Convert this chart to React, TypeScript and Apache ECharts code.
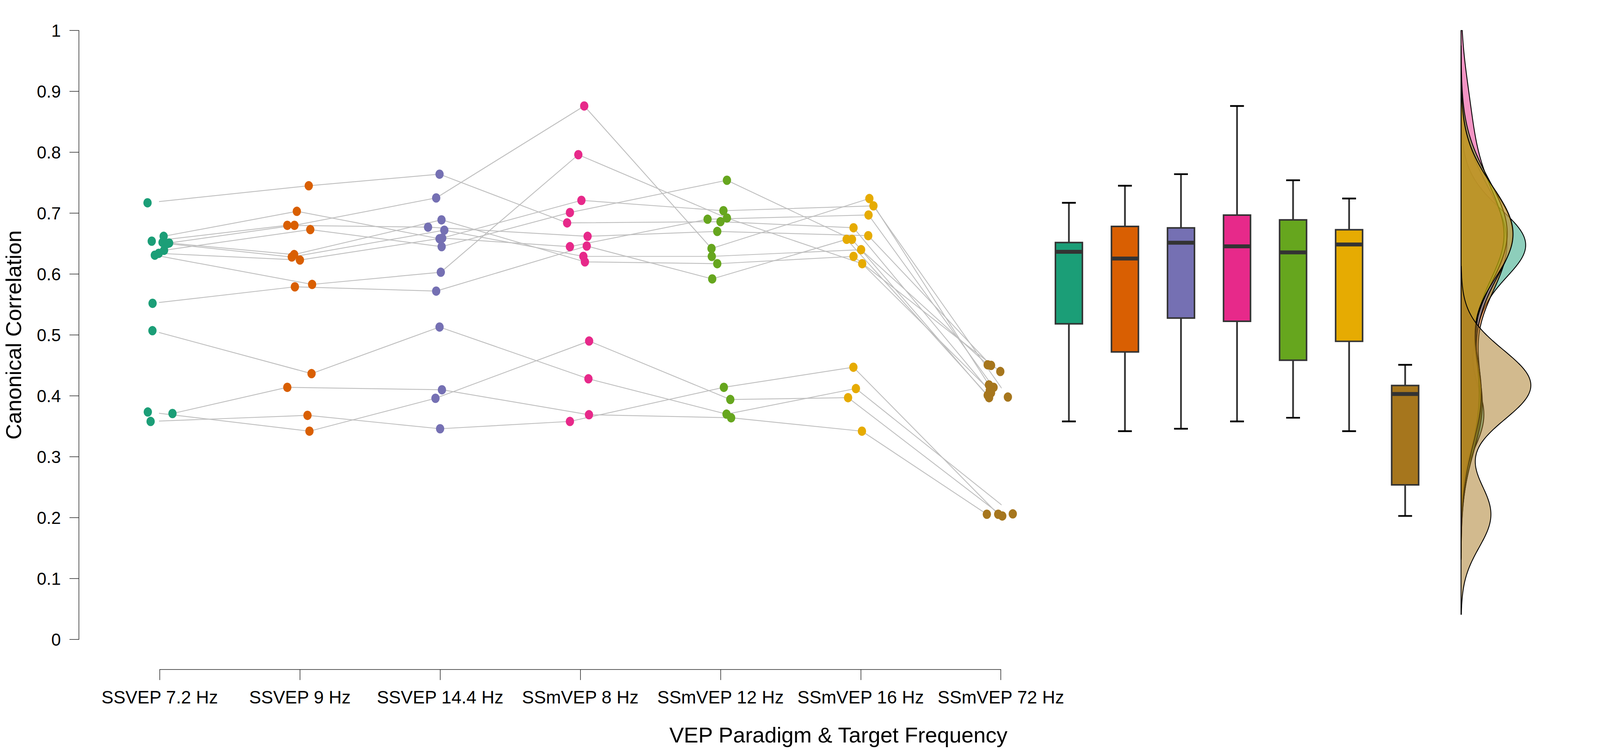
import React, { useEffect, useRef } from "react";
import * as echarts from "echarts";

// ---------------- data ----------------
const categories = [
  "SSVEP 7.2 Hz",
  "SSVEP 9 Hz",
  "SSVEP 14.4 Hz",
  "SSmVEP 8 Hz",
  "SSmVEP 12 Hz",
  "SSmVEP 16 Hz",
  "SSmVEP 72 Hz",
];
const colors = ["#1B9E77", "#D95F02", "#7570B3", "#E7298A", "#66A61E", "#E6AB02", "#A6761D"];

// one entry per participant (same order in every array)
const ssvep7_2 = [0.717, 0.662, 0.654, 0.651, 0.639, 0.652, 0.65, 0.634, 0.631, 0.552, 0.507, 0.3735, 0.371, 0.358];
const ssvep9 = [0.745, 0.703, 0.68, 0.68, 0.673, 0.632, 0.628, 0.623, 0.583, 0.579, 0.4365, 0.342, 0.414, 0.368];
const ssvep14_4 = [0.764, 0.658, 0.677, 0.725, 0.645, 0.689, 0.672, 0.659, 0.603, 0.572, 0.513, 0.396, 0.41, 0.346];
const ssmvep8 = [0.684, 0.721, 0.662, 0.876, 0.701, 0.62, 0.629, 0.645, 0.796, 0.646, 0.428, 0.49, 0.369, 0.358];
const ssmvep12 = [0.686, 0.704, 0.67, 0.642, 0.754, 0.617, 0.629, 0.69, 0.692, 0.592, 0.37, 0.394, 0.364, 0.414];
const ssmvep16 = [0.676, 0.712, 0.663, 0.724, 0.657, 0.629, 0.64, 0.697, 0.617, 0.657, 0.412, 0.397, 0.342, 0.447];
const ssmvep72 = [0.405, 0.398, 0.45, 0.418, 0.397, 0.44, 0.451, 0.414, 0.409, 0.401, 0.2062, 0.2028, 0.2056, 0.2056];

// horizontal jitter of each point, in category units
const jitter7_2 = [-0.087, 0.028, -0.057, 0.067, 0.031, 0.02, 0.052, -0.007, -0.035, -0.051, -0.052, -0.085, 0.091, -0.065];
const jitter9 = [0.063, -0.022, -0.09, -0.039, 0.074, -0.041, -0.058, 0.0, 0.087, -0.036, 0.083, 0.068, -0.09, 0.054];
const jitter14_4 = [-0.004, -0.004, -0.086, -0.028, 0.011, 0.01, 0.03, 0.015, 0.005, -0.028, -0.004, -0.033, 0.013, 0.0];
const jitter8 = [-0.094, 0.008, 0.052, 0.028, -0.074, 0.033, 0.022, -0.074, -0.014, 0.046, 0.058, 0.063, 0.062, -0.074];
const jitter12 = [0.0, 0.021, -0.023, -0.064, 0.046, -0.023, -0.062, -0.092, 0.046, -0.059, 0.043, 0.07, 0.076, 0.024];
const jitter16 = [-0.051, 0.091, 0.054, 0.062, -0.062, -0.051, 0.003, 0.056, 0.011, -0.1, -0.034, -0.09, 0.009, -0.052];
const jitter72 = [-0.07, 0.05, -0.07, -0.085, -0.084, -0.004, -0.094, -0.052, -0.079, -0.094, 0.085, 0.01, -0.1, -0.019];

const conditions = [ssvep7_2, ssvep9, ssvep14_4, ssmvep8, ssmvep12, ssmvep16, ssmvep72];
const jitters = [jitter7_2, jitter9, jitter14_4, jitter8, jitter12, jitter16, jitter72];

const yAxisTitle = "Canonical Correlation";
const xAxisTitle = "VEP Paradigm & Target Frequency";

// ---------------- statistics ----------------
function q7(sorted: number[], p: number) {
  const h = (sorted.length - 1) * p;
  const lo = Math.floor(h);
  const hi = Math.min(lo + 1, sorted.length - 1);
  return sorted[lo] + (h - lo) * (sorted[hi] - sorted[lo]);
}
function boxStats(vals: number[]) {
  const s = [...vals].sort((a, b) => a - b);
  const q1 = q7(s, 0.25);
  const med = q7(s, 0.5);
  const q3 = q7(s, 0.75);
  const iqr = q3 - q1;
  const lo = s.filter((v) => v >= q1 - 1.5 * iqr)[0];
  const his = s.filter((v) => v <= q3 + 1.5 * iqr);
  const hi = his[his.length - 1];
  return [lo, q1, med, q3, hi];
}
function bwNrd0(vals: number[]) {
  const n = vals.length;
  const mean = vals.reduce((a, b) => a + b, 0) / n;
  const sd = Math.sqrt(vals.reduce((a, b) => a + (b - mean) * (b - mean), 0) / (n - 1));
  const s = [...vals].sort((a, b) => a - b);
  const iqr = q7(s, 0.75) - q7(s, 0.25);
  return 0.9 * Math.min(sd, iqr / 1.34) * Math.pow(n, -0.2);
}
function kde(vals: number[]) {
  const bw = bwNrd0(vals);
  const n = vals.length;
  const lo = Math.max(0, Math.min(...vals) - 3 * bw);
  const hi = Math.min(1, Math.max(...vals) + 3 * bw);
  const pts: number[][] = [];
  const N = 400;
  for (let k = 0; k <= N; k++) {
    const y = lo + ((hi - lo) * k) / N;
    let d = 0;
    for (const v of vals) {
      const z = (y - v) / bw;
      d += Math.exp(-0.5 * z * z);
    }
    d = d / (n * bw * Math.sqrt(2 * Math.PI));
    pts.push([d, y]);
  }
  return pts;
}
function rgba(hex: string, a: number) {
  const r = parseInt(hex.slice(1, 3), 16);
  const g = parseInt(hex.slice(3, 5), 16);
  const b = parseInt(hex.slice(5, 7), 16);
  return `rgba(${r},${g},${b},${a})`;
}

const FONT = "'Liberation Sans', Arial, Helvetica, sans-serif";
const REF_W = 4628;
const REF_H = 1934;

export default function App() {
  const ref = useRef<HTMLDivElement>(null);
  const vw = window.innerWidth;
  const vh = window.innerHeight;
  const SX = vw / REF_W;
  const SY = vh / REF_H;

  useEffect(() => {
    if (!ref.current) return;
    const chart = echarts.init(ref.current, undefined, { renderer: "svg" });
    const kx = (v: number) => v * SX;
    const ky = (v: number) => v * SY;
    const kf = (v: number) => v * Math.min(SX, SY);

    const stats = conditions.map(boxStats);
    const dens = conditions.map(kde);
    let dMax = 0;
    dens.forEach((c) => c.forEach((p) => (dMax = Math.max(dMax, p[0]))));

    const top = ky(78);
    const plotH = ky(1560);

    const lineSeries = conditions[0].map((_, s) => ({
      type: "line",
      xAxisIndex: 0,
      yAxisIndex: 0,
      data: conditions.map((vals, c) => [c + jitters[c][s], vals[s]]),
      symbol: "none",
      lineStyle: { color: "#BEBEBE", width: kf(2.5) },
      silent: true,
      clip: false,
      z: 2,
    }));

    const scatterSeries = conditions.map((vals, c) => ({
      type: "scatter",
      xAxisIndex: 0,
      yAxisIndex: 0,
      data: vals.map((v, s) => [c + jitters[c][s], v]),
      symbolSize: [kx(24), ky(24)],
      itemStyle: { color: colors[c], opacity: 1 },
      clip: false,
      z: 3,
    }));

    const boxSeries = {
      type: "custom",
      xAxisIndex: 1,
      yAxisIndex: 1,
      clip: false,
      data: stats.map((s, i) => [i, ...s]),
      encode: { x: 0, y: [1, 2, 3, 4, 5] },
      renderItem: (params: any, api: any) => {
        const i = api.value(0);
        const pMin = api.coord([i, api.value(1)]);
        const pQ1 = api.coord([i, api.value(2)]);
        const pMed = api.coord([i, api.value(3)]);
        const pQ3 = api.coord([i, api.value(4)]);
        const pMax = api.coord([i, api.value(5)]);
        const cx = pMin[0];
        const bw = kx(78);
        const cap = kx(20);
        const wStyle = { stroke: "#333333", lineWidth: kf(5) };
        return {
          type: "group",
          children: [
            { type: "line", shape: { x1: cx, y1: pMax[1], x2: cx, y2: pQ3[1] }, style: wStyle },
            { type: "line", shape: { x1: cx, y1: pQ1[1], x2: cx, y2: pMin[1] }, style: wStyle },
            { type: "line", shape: { x1: cx - cap, y1: pMax[1], x2: cx + cap, y2: pMax[1] }, style: { stroke: "#000", lineWidth: kf(5) } },
            { type: "line", shape: { x1: cx - cap, y1: pMin[1], x2: cx + cap, y2: pMin[1] }, style: { stroke: "#000", lineWidth: kf(5) } },
            {
              type: "rect",
              shape: { x: cx - bw / 2, y: pQ3[1], width: bw, height: pQ1[1] - pQ3[1] },
              style: { fill: colors[params.dataIndex], stroke: "#333333", lineWidth: kf(4.5) },
            },
            {
              type: "rect",
              shape: { x: cx - bw / 2, y: pMed[1] - ky(5), width: bw, height: ky(10) },
              style: { fill: "#333333" },
            },
          ],
        };
      },
      z: 3,
    };

    const densSeries = {
      type: "custom",
      xAxisIndex: 2,
      yAxisIndex: 2,
      clip: false,
      data: dens.map((_, g) => [0, 0.5, g]),
      encode: { x: 0, y: 1 },
      renderItem: (params: any, api: any) => {
        const g = params.dataIndex;
        const curve = dens[g];
        const pts: number[][] = [];
        pts.push(api.coord([0, curve[0][1]]));
        curve.forEach((p) => pts.push(api.coord([p[0], p[1]])));
        pts.push(api.coord([0, curve[curve.length - 1][1]]));
        return {
          type: "polygon",
          shape: { points: pts },
          style: { fill: rgba(colors[g], 0.5), stroke: "#000", lineWidth: kf(2.5), lineJoin: "round" },
        };
      },
      z: 3,
    };

    const option: any = {
      animation: false,
      backgroundColor: "#ffffff",
      textStyle: { fontFamily: FONT },
      grid: [
        { left: kx(462), top, width: kx(2433), height: plotH },
        { left: kx(3010.75), top, width: kx(1134.7), height: plotH },
        { left: kx(4226), top, width: kx(300), height: plotH },
      ],
      xAxis: [
        {
          gridIndex: 0,
          type: "value",
          min: 0,
          max: 6,
          interval: 1,
          offset: ky(77),
          axisLine: { show: true, onZero: false, lineStyle: { color: "#222", width: kf(1.7) } },
          axisTick: { show: true, length: ky(27), lineStyle: { color: "#222", width: kf(1.7) } },
          axisLabel: {
            formatter: (v: number) => categories[Math.round(v)] ?? "",
            fontSize: kf(52),
            color: "#000",
            margin: ky(48),
            fontFamily: FONT,
            showMinLabel: true,
            showMaxLabel: true,
          },
          splitLine: { show: false },
        },
        { gridIndex: 1, type: "value", min: -0.5, max: 6.5, show: false, splitLine: { show: false } },
        { gridIndex: 2, type: "value", min: 0, max: (dMax * 300) / 202, show: false, splitLine: { show: false } },
      ],
      yAxis: [
        {
          gridIndex: 0,
          type: "value",
          min: 0,
          max: 1,
          interval: 0.1,
          offset: kx(234),
          axisLine: { show: true, onZero: false, lineStyle: { color: "#222", width: kf(1.7) } },
          axisTick: { show: true, length: kx(27), lineStyle: { color: "#222", width: kf(1.7) } },
          axisLabel: { fontSize: kf(50), color: "#000", margin: kx(52), fontFamily: FONT },
          splitLine: { show: false },
        },
        { gridIndex: 1, type: "value", min: 0, max: 1, show: false, splitLine: { show: false } },
        { gridIndex: 2, type: "value", min: 0, max: 1, show: false, splitLine: { show: false } },
      ],
      graphic: [
        {
          type: "text",
          x: kx(40),
          y: ky(858),
          rotation: Math.PI / 2,
          style: {
            text: yAxisTitle,
            fontSize: kf(63),
            fontFamily: FONT,
            fill: "#000",
            textAlign: "center",
            textVerticalAlign: "middle",
          },
        },
        {
          type: "text",
          x: kx(2425),
          y: ky(1883),
          style: {
            text: xAxisTitle,
            fontSize: kf(63),
            fontFamily: FONT,
            fill: "#000",
            textAlign: "center",
            textVerticalAlign: "middle",
          },
        },
      ],
      series: [...lineSeries, ...scatterSeries, boxSeries, densSeries],
    };

    chart.setOption(option);
    return () => chart.dispose();
  }, [SX, SY]);

  return (
    <div
      ref={ref}
      style={{ position: "fixed", left: 0, top: 0, width: vw, height: vh, background: "#fff" }}
    />
  );
}
